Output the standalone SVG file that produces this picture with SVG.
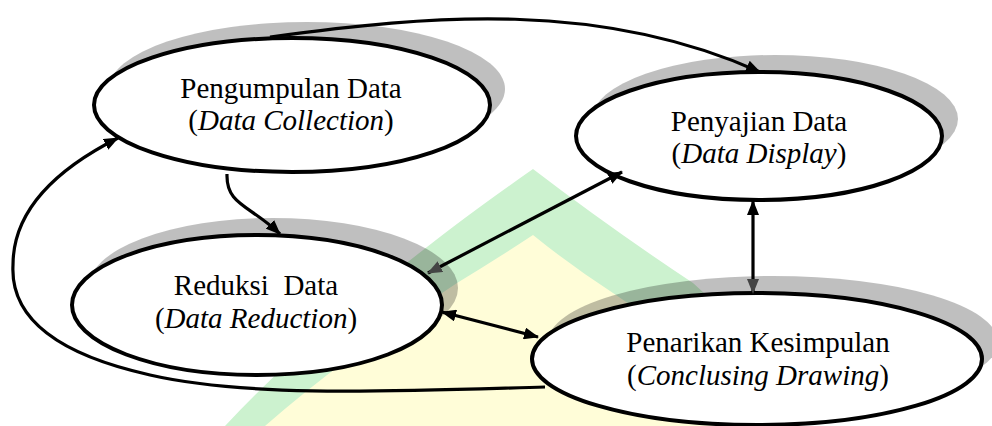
<svg xmlns="http://www.w3.org/2000/svg" width="992" height="426" viewBox="0 0 992 426">
  <style>
    .shadow { fill: #000; fill-opacity: 0.25; }
    .node { fill: #fff; stroke: #000; stroke-width: 4; }
    .label { font-family: "Liberation Serif", "Times New Roman", serif; font-size: 29px; fill: #000; text-anchor: middle; white-space: pre; }
    .it { font-style: italic; }
    .edge { fill: none; stroke: #000; stroke-width: 3.2; }
  </style>
  <defs>
    <marker id="ah" viewBox="0 0 15 12" refX="14" refY="6" markerWidth="15" markerHeight="12" markerUnits="userSpaceOnUse" orient="auto-start-reverse">
      <path d="M0,0 L15,6 L0,12 z" fill="#000"/>
    </marker>
    <marker id="ahg" viewBox="0 0 15 12" refX="14" refY="6" markerWidth="15" markerHeight="12" markerUnits="userSpaceOnUse" orient="auto-start-reverse">
      <path d="M0,0 L15,6 L0,12 z" fill="#444"/>
    </marker>
  </defs>

  <rect x="0" y="0" width="992" height="426" fill="#fff"/>

  <g id="watermark">
    <path d="M533,169 Q 470,213 427,247 Q 300,345 225,426 L 800,426 Q 760,340 693,283 Q 610,228 533,169 z" fill="#ccf2cf"/>
    <path d="M533,235 Q 495,260 457,283 Q 340,360 265,426 L 760,426 Q 700,350 613,293 Q 570,265 533,235 z" fill="#fffdd8"/>
  </g>

  <g id="node-pengumpulan">
    <ellipse class="shadow" cx="307" cy="89" rx="198" ry="67"/>
    <ellipse class="node" cx="292" cy="105" rx="198" ry="67"/>
    <text class="label" font-family="Liberation Serif, serif" x="291" y="98">Pengumpulan Data</text>
    <text class="label" font-family="Liberation Serif, serif" x="291" y="130">(<tspan class="it">Data Collection</tspan>)</text>
  </g>

  <g id="node-penyajian">
    <ellipse class="shadow" cx="775" cy="119" rx="183" ry="64"/>
    <ellipse class="node" cx="759" cy="136" rx="183" ry="64"/>
    <text class="label" font-family="Liberation Serif, serif" x="759" y="131">Penyajian Data</text>
    <text class="label" font-family="Liberation Serif, serif" x="759" y="163">(<tspan class="it">Data Display</tspan>)</text>
  </g>

  <g id="node-reduksi">
    <ellipse class="shadow" cx="273" cy="288" rx="185" ry="70"/>
    <ellipse class="node" cx="257" cy="305" rx="185" ry="70"/>
    <text class="label" font-family="Liberation Serif, serif" x="256" y="295">Reduksi  Data</text>
    <text class="label" font-family="Liberation Serif, serif" x="256" y="328">(<tspan class="it">Data Reduction</tspan>)</text>
  </g>

  <g id="node-penarikan">
    <ellipse class="shadow" cx="773" cy="342" rx="225" ry="66"/>
    <ellipse class="node" cx="757" cy="359" rx="225" ry="66"/>
    <text class="label" font-family="Liberation Serif, serif" x="758" y="352">Penarikan Kesimpulan</text>
    <text class="label" font-family="Liberation Serif, serif" x="758" y="385">(<tspan class="it">Conclusing Drawing</tspan>)</text>
  </g>

  <g id="connectors">
    <path class="edge" d="M270,37 C 430,15 600,0 760,72" marker-end="url(#ah)"/>
    <path class="edge" d="M227,174 C 226,205 250,205 280,234" marker-end="url(#ah)"/>
    <path class="edge" d="M545,387 C 400,391 250,398 150,375 C 60,355 10,320 13,265 C 13,225 35,180 118,138" marker-end="url(#ah)"/>
    <path class="edge" d="M428,273 L622,172" marker-start="url(#ahg)" marker-end="url(#ah)"/>
    <path class="edge" d="M753,201 L753,293" marker-start="url(#ah)" marker-end="url(#ahg)"/>
    <path class="edge" d="M442,312 L538,337" marker-start="url(#ah)" marker-end="url(#ah)"/>
  </g>
</svg>
